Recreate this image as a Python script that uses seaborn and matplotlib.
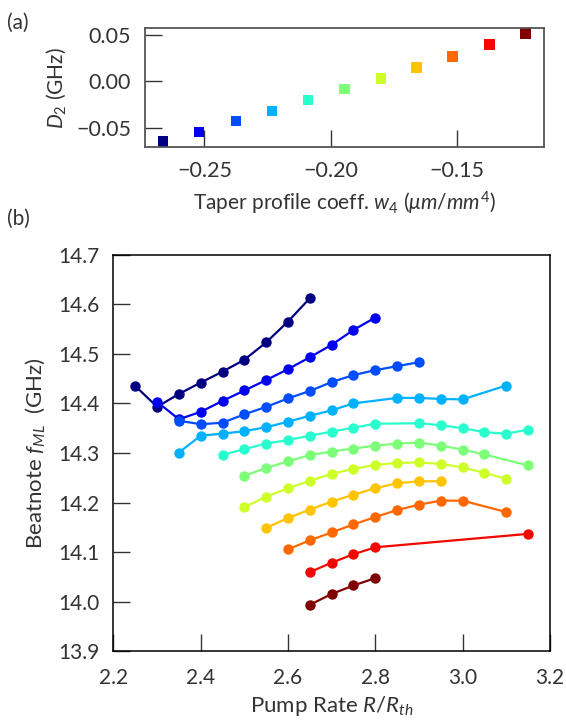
import matplotlib
matplotlib.use("Agg")
import matplotlib.pyplot as plt
import numpy as np
import pandas as pd
import seaborn as sns

# (a) D2 versus taper profile coefficient
w4 = [-0.2664, -0.2522, -0.2375, -0.2233, -0.2091, -0.1945,
      -0.1802, -0.1660, -0.1518, -0.1373, -0.1229]
d2 = [-0.0652, -0.0545, -0.0427, -0.0321, -0.0203, -0.0085,
      0.0032, 0.0150, 0.0267, 0.0395, 0.0513]

# (b) beatnote versus pump rate, one list per taper
pump = [
    [2.25, 2.30, 2.35, 2.40, 2.45, 2.50, 2.55, 2.60, 2.65],
    [2.30, 2.35, 2.40, 2.45, 2.50, 2.55, 2.60, 2.65, 2.70, 2.75, 2.80],
    [2.35, 2.40, 2.45, 2.50, 2.55, 2.60, 2.65, 2.70, 2.75, 2.80, 2.85, 2.90],
    [2.35, 2.40, 2.45, 2.50, 2.55, 2.60, 2.65, 2.70, 2.75, 2.85, 2.90, 2.95, 3.00, 3.10],
    [2.45, 2.50, 2.55, 2.60, 2.65, 2.70, 2.75, 2.80, 2.90, 2.95, 3.00, 3.05, 3.10, 3.15],
    [2.50, 2.55, 2.60, 2.65, 2.70, 2.75, 2.80, 2.85, 2.90, 2.95, 3.00, 3.05, 3.15],
    [2.50, 2.55, 2.60, 2.65, 2.70, 2.75, 2.80, 2.85, 2.90, 2.95, 3.00, 3.05, 3.10],
    [2.55, 2.60, 2.65, 2.70, 2.75, 2.80, 2.85, 2.90, 2.95],
    [2.60, 2.65, 2.70, 2.75, 2.80, 2.85, 2.90, 2.95, 3.00, 3.10],
    [2.65, 2.70, 2.75, 2.80, 3.15],
    [2.65, 2.70, 2.75, 2.80],
]
beat = [
    [14.435, 14.393, 14.419, 14.442, 14.464, 14.488, 14.523, 14.565, 14.612],
    [14.403, 14.368, 14.383, 14.405, 14.426, 14.447, 14.469, 14.493, 14.518, 14.548, 14.573],
    [14.365, 14.358, 14.361, 14.378, 14.393, 14.410, 14.425, 14.443, 14.457, 14.467, 14.475, 14.483],
    [14.301, 14.335, 14.339, 14.344, 14.352, 14.363, 14.375, 14.386, 14.400, 14.411, 14.411, 14.409, 14.408, 14.436],
    [14.296, 14.308, 14.319, 14.326, 14.335, 14.343, 14.351, 14.359, 14.360, 14.356, 14.350, 14.342, 14.339, 14.347],
    [14.254, 14.270, 14.283, 14.296, 14.303, 14.309, 14.315, 14.319, 14.321, 14.315, 14.307, 14.297, 14.275],
    [14.191, 14.212, 14.229, 14.244, 14.258, 14.268, 14.276, 14.280, 14.281, 14.278, 14.271, 14.260, 14.248],
    [14.149, 14.169, 14.186, 14.202, 14.216, 14.229, 14.239, 14.243, 14.243],
    [14.106, 14.124, 14.140, 14.156, 14.171, 14.185, 14.196, 14.204, 14.204, 14.181],
    [14.060, 14.079, 14.096, 14.110, 14.137],
    [13.994, 14.016, 14.033, 14.048],
]

sns.set_theme(style="ticks")
plt.rcParams["font.family"] = ["Lato", "DejaVu Sans"]
plt.rcParams["mathtext.fontset"] = "custom"
plt.rcParams["mathtext.rm"] = "Lato"
plt.rcParams["mathtext.it"] = "Lato:italic"
plt.rcParams["axes.unicode_minus"] = True

text_color = "#333333"
colors = [plt.cm.jet(v) for v in np.linspace(0, 1, len(w4))]

top_df = pd.DataFrame({"w4": w4, "d2": d2, "taper": range(len(w4))})
rows = []
for i, (xs, ys) in enumerate(zip(pump, beat)):
    for x, y in zip(xs, ys):
        rows.append({"taper": i, "pump": x, "beat": y})
bot_df = pd.DataFrame(rows)

fig = plt.figure(figsize=(5.66, 7.21), dpi=100)
ax1 = fig.add_axes([0.256, 0.7957, 0.705, 0.1655])
ax2 = fig.add_axes([0.2005, 0.0964, 0.771, 0.5506])

sns.scatterplot(data=top_df, x="w4", y="d2", hue="taper", palette=colors,
                marker="s", s=60, linewidth=0, legend=False, ax=ax1)
ax1.set_xticks([-0.25, -0.20, -0.15])
ax1.set_yticks([-0.05, 0.0, 0.05])
ax1.set_xlabel(r"Taper profile coeff. $w_4$ ($\mu m/mm^4$)", fontsize=15,
               color=text_color, labelpad=6)
ax1.set_ylabel(r"$D_2$ (GHz)", fontsize=15, color=text_color, labelpad=6)
for s in ax1.spines.values():
    s.set_color("#555555")
    s.set_linewidth(1.3)

sns.lineplot(data=bot_df, x="pump", y="beat", hue="taper", palette=colors,
             marker="o", markersize=7.5, markeredgewidth=0, linewidth=1.6,
             sort=False, estimator=None, legend=False, ax=ax2)
ax2.set_xlim(2.2, 3.2)
ax2.set_ylim(13.9, 14.7)
ax2.set_xticks([2.2, 2.4, 2.6, 2.8, 3.0, 3.2])
ax2.set_yticks(np.round(np.arange(13.9, 14.71, 0.1), 1))
ax2.set_xlabel(r"Pump Rate $R/R_{th}$", fontsize=16, color=text_color, labelpad=4)
ax2.set_ylabel(r"Beatnote $f_{ML}$  (GHz)", fontsize=16, color=text_color, labelpad=8)
for s in ax2.spines.values():
    s.set_color("black")
    s.set_linewidth(1.1)

ax1.tick_params(direction="in", length=12, width=1, labelsize=15.5,
                color="#333333", labelcolor=text_color, pad=10)
ax2.tick_params(direction="in", length=12, width=1, labelsize=15,
                color="#333333", labelcolor=text_color, pad=10)
ax2.tick_params(axis="x", pad=12)

fig.text(0.012, 0.96, "(a)", fontsize=15, color=text_color)
fig.text(0.012, 0.688, "(b)", fontsize=15, color=text_color)

fig.savefig("out.png", dpi=100)
